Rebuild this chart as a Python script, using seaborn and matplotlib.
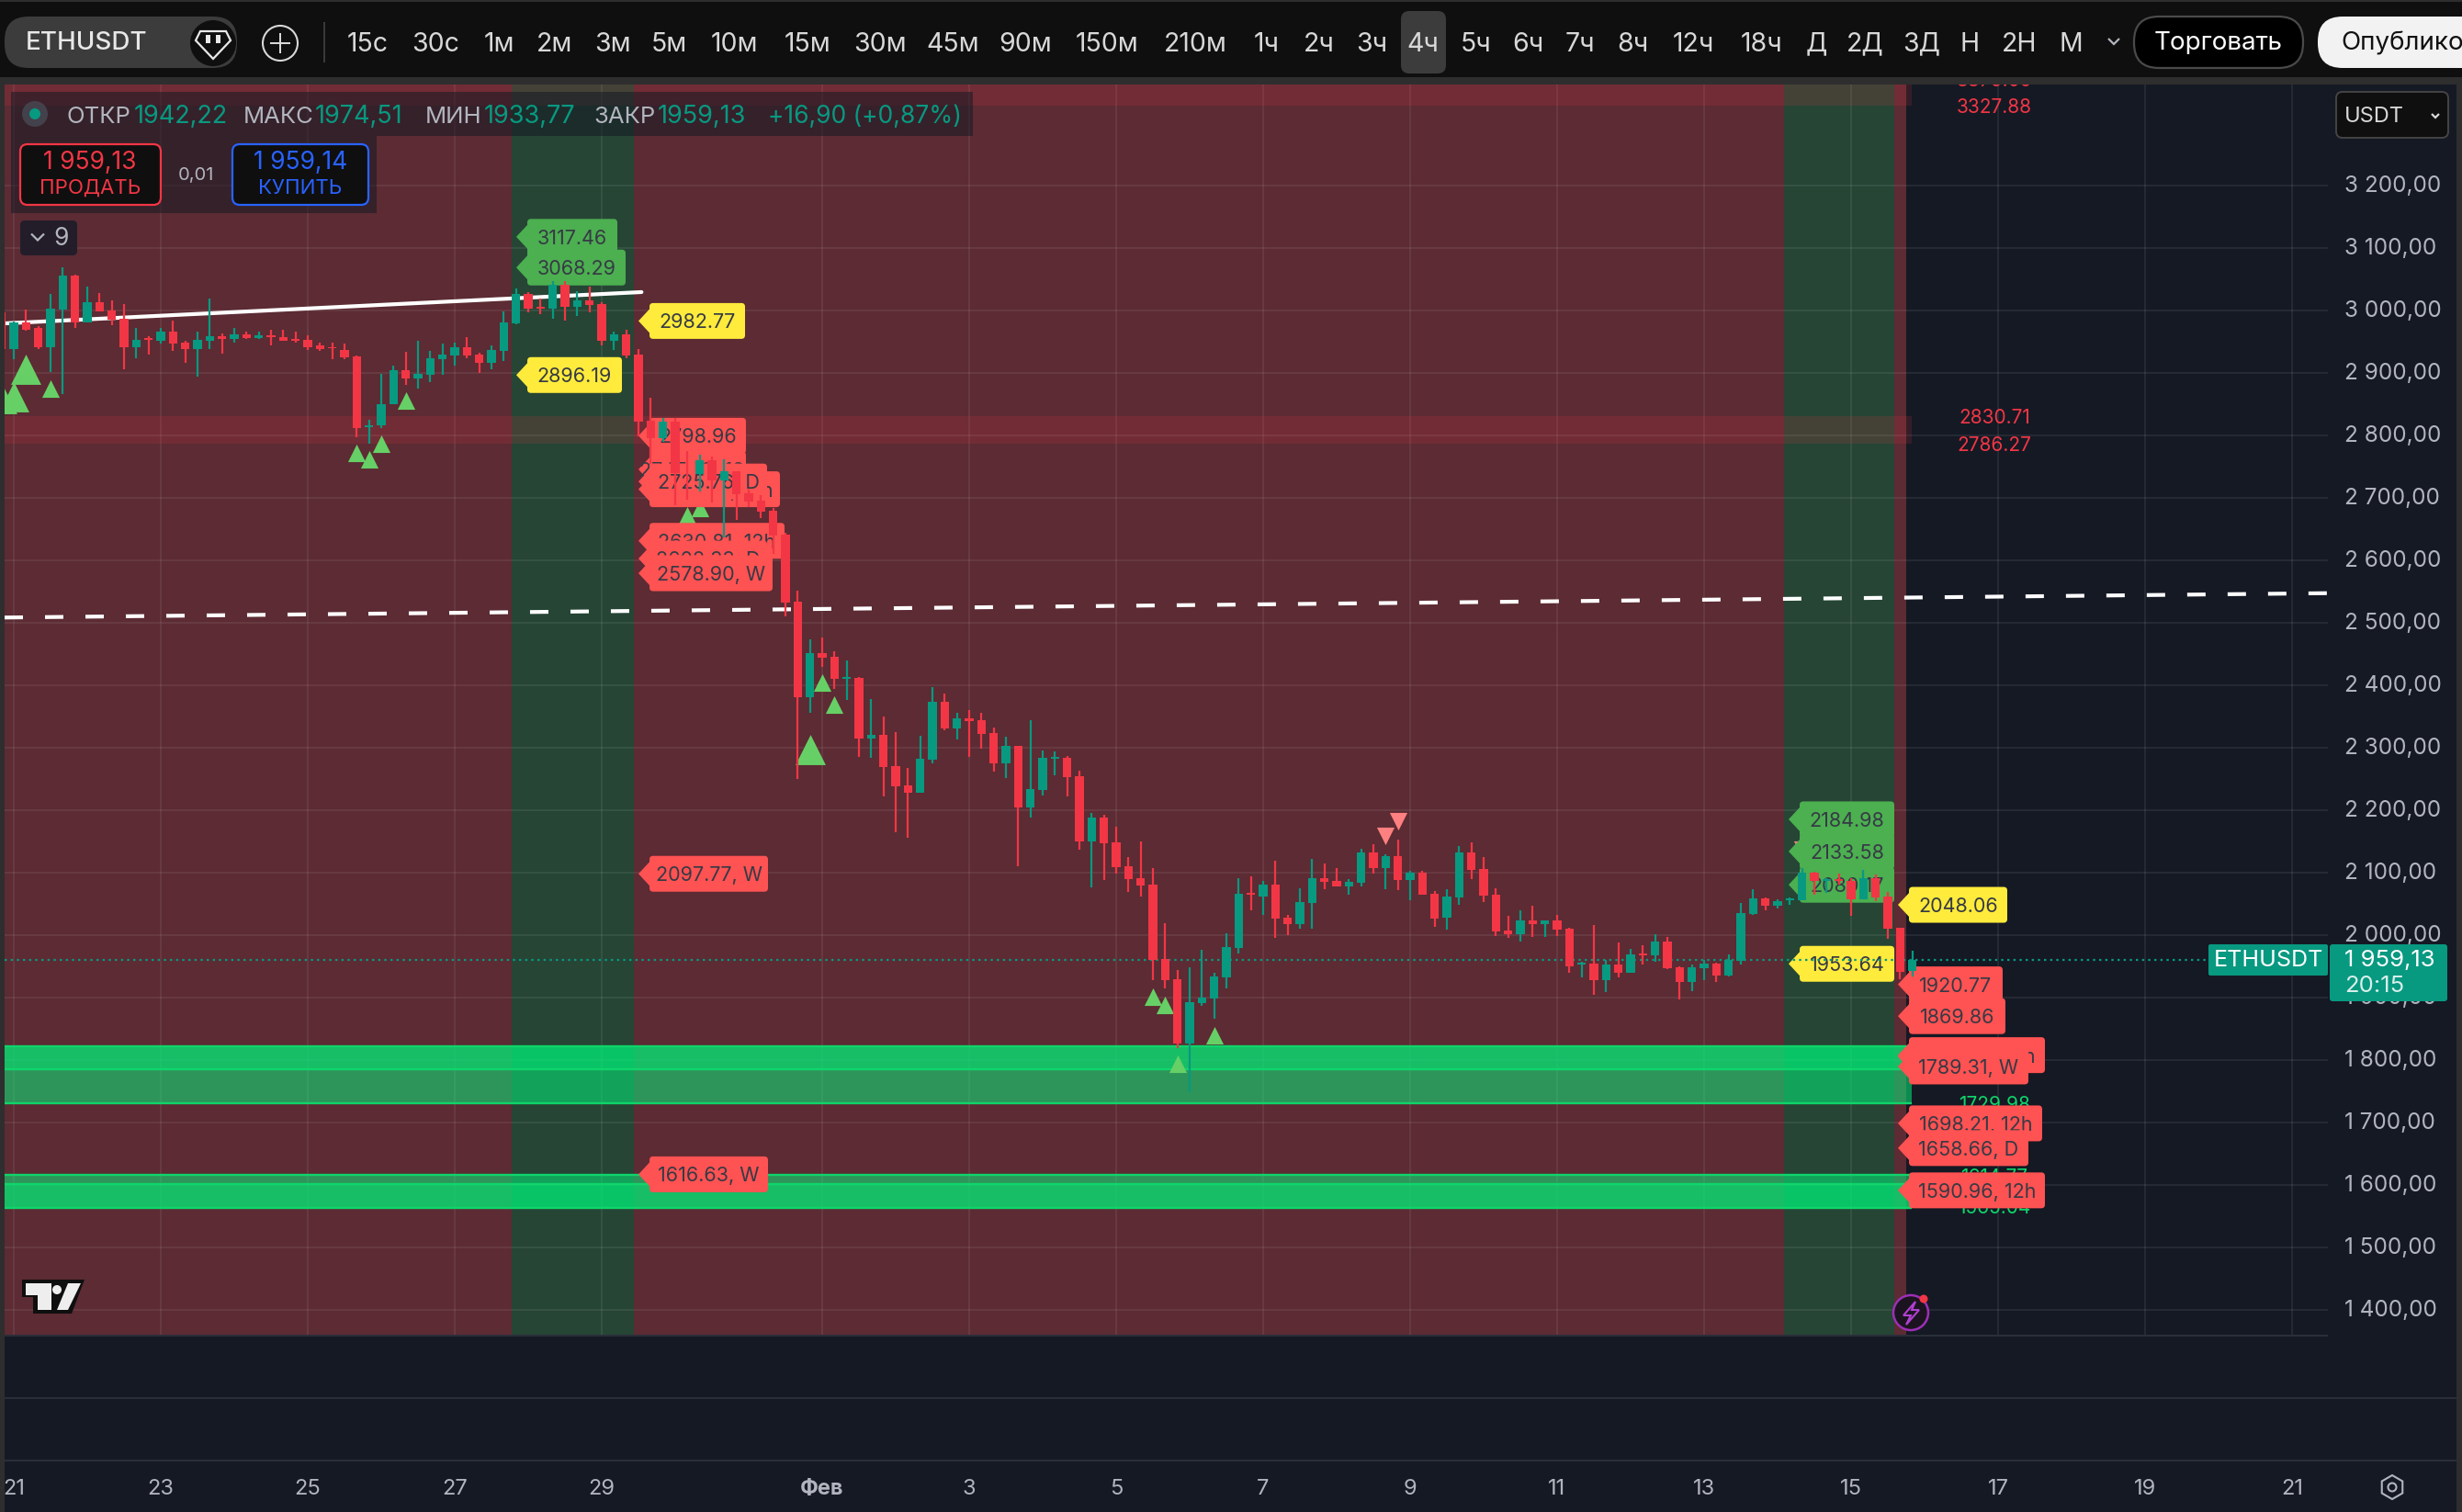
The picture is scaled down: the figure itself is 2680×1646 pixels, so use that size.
import matplotlib
matplotlib.use("Agg")
import matplotlib.dates as mdates
import matplotlib.pyplot as plt
import numpy as np
import pandas as pd
import seaborn as sns
from matplotlib.patches import Circle, FancyBboxPatch, Polygon, Rectangle, RegularPolygon
from matplotlib.transforms import Affine2D, ScaledTranslation

W, H = 2680, 1646

# 4h candles, first one is Jan 20 20:00
opens = [2996, 2938, 2981, 2971, 2941, 3001, 3056, 2981, 3013, 3000, 2987, 2940, 2955, 2951, 2965, 2948,
         2938, 2951, 2959, 2954, 2962, 2956, 2960, 2957, 2954, 2953, 2943, 2941, 2937, 2926, 2813, 2815,
         2849, 2904, 2891, 2897, 2922, 2928, 2941, 2929, 2915, 2935, 2979, 3026, 3005, 3003, 3040, 3006,
         3016, 3010, 2951, 2962, 2929, 2823, 2795, 2822, 2741, 2738, 2760, 2727, 2742, 2707, 2695, 2679,
         2641, 2533, 2381, 2451, 2445, 2410, 2411, 2314, 2320, 2270, 2239, 2228, 2281, 2373, 2331, 2347,
         2344, 2323, 2275, 2302, 2204, 2232, 2282, 2283, 2254, 2149, 2188, 2148, 2110, 2091, 2080, 1961,
         1929, 1826, 1891, 1898, 1932, 1979, 2067, 2061, 2080, 2027, 2017, 2051, 2091, 2086, 2077, 2083,
         2132, 2107, 2126, 2088, 2099, 2066, 2027, 2060, 2132, 2105, 2064, 2007, 2001, 2023, 2017, 2023,
         2010, 1952, 1954, 1927, 1952, 1939, 1970, 1967, 1989, 1948, 1925, 1947, 1954, 1935, 1958, 2033,
         2058, 2047, 2056, 2055, 2099, 2087, 2089, 2086, 2057, 2091, 2061, 2011, 1942.22]
closes = [2938, 2981, 2969, 2940, 3003, 3056, 2981, 3013, 2998, 2985, 2940, 2953, 2952, 2965, 2947, 2938,
          2953, 2959, 2954, 2962, 2956, 2960, 2957, 2951, 2951, 2941, 2938, 2939, 2925, 2812, 2816, 2850,
          2904, 2891, 2898, 2923, 2929, 2941, 2928, 2915, 2937, 2981, 3026, 3003, 3003, 3040, 3006, 3016,
          3009, 2951, 2962, 2928, 2822, 2795, 2822, 2739, 2740, 2760, 2727, 2742, 2705, 2694, 2678, 2639,
          2532, 2381, 2451, 2444, 2410, 2413, 2314, 2320, 2269, 2238, 2228, 2282, 2373, 2331, 2347, 2342,
          2322, 2275, 2303, 2204, 2233, 2283, 2285, 2252, 2149, 2188, 2147, 2108, 2089, 2079, 1960, 1927,
          1826, 1892, 1900, 1933, 1980, 2066, 2064, 2080, 2026, 2017, 2052, 2091, 2085, 2077, 2085, 2132,
          2107, 2126, 2088, 2099, 2064, 2026, 2061, 2132, 2104, 2063, 2005, 2001, 2023, 2017, 2023, 2008,
          1950, 1955, 1927, 1952, 1939, 1969, 1967, 1989, 1947, 1925, 1948, 1954, 1935, 1960, 2035, 2058,
          2047, 2054, 2058, 2099, 2086, 2089, 2086, 2057, 2091, 2060, 2010, 1941, 1959.13]
highs = [3000, 2982, 3001, 2974, 3026, 3069, 3057, 3038, 3028, 3016, 3010, 2972, 2959, 2972, 2984, 2951,
         2965, 3019, 2963, 2971, 2966, 2965, 2968, 2968, 2965, 2960, 2948, 2948, 2946, 2928, 2825, 2898,
         2912, 2934, 2951, 2935, 2946, 2948, 2957, 2932, 2943, 2998, 3035, 3029, 3018, 3046, 3046, 3031,
         3038, 3013, 2965, 2969, 2938, 2860, 2827, 2827, 2775, 2769, 2766, 2761, 2742, 2713, 2704, 2683,
         2644, 2551, 2473, 2476, 2454, 2439, 2413, 2378, 2350, 2325, 2267, 2319, 2397, 2386, 2356, 2360,
         2356, 2332, 2317, 2303, 2344, 2295, 2294, 2286, 2263, 2195, 2192, 2173, 2124, 2149, 2107, 2019,
         1944, 1948, 1976, 1939, 2002, 2091, 2094, 2086, 2119, 2032, 2075, 2122, 2114, 2107, 2089, 2138,
         2145, 2129, 2152, 2102, 2102, 2070, 2073, 2142, 2148, 2124, 2075, 2030, 2039, 2047, 2023, 2032,
         2011, 1957, 2016, 1960, 1988, 1977, 1983, 2001, 1997, 1950, 1952, 1960, 1955, 1969, 2051, 2073,
         2060, 2057, 2060, 2107, 2101, 2091, 2098, 2091, 2104, 2097, 2069, 2011, 1974.51]
lows = [2935, 2922, 2967, 2938, 2901, 2866, 2972, 2981, 2998, 2976, 2906, 2923, 2929, 2946, 2935, 2915,
        2893, 2938, 2931, 2948, 2954, 2954, 2944, 2951, 2948, 2937, 2935, 2921, 2922, 2797, 2787, 2812,
        2849, 2881, 2875, 2885, 2896, 2912, 2923, 2900, 2906, 2918, 2978, 2996, 2993, 2987, 2984, 2990,
        2997, 2944, 2937, 2923, 2798, 2754, 2789, 2688, 2697, 2710, 2692, 2636, 2664, 2685, 2667, 2610,
        2510, 2250, 2356, 2429, 2394, 2376, 2285, 2284, 2222, 2165, 2155, 2228, 2275, 2328, 2313, 2285,
        2298, 2261, 2251, 2110, 2188, 2223, 2255, 2221, 2136, 2076, 2088, 2098, 2069, 2061, 1927, 1914,
        1819, 1748, 1886, 1866, 1914, 1970, 2039, 2032, 1995, 1999, 2010, 2010, 2073, 2077, 2064, 2077,
        2098, 2073, 2072, 2055, 2064, 2013, 2008, 2048, 2089, 2052, 1998, 1995, 1989, 1997, 1997, 1998,
        1939, 1932, 1904, 1908, 1932, 1939, 1952, 1957, 1945, 1897, 1910, 1927, 1925, 1933, 1952, 2032,
        2039, 2042, 2048, 2055, 2064, 2067, 2080, 2030, 2057, 2054, 1994, 1929, 1933.77]

# signal triangles: index into the candle lists, price
big_up_idx = [0, 1, 2, 66]
big_up_price = [2858, 2861, 2905, 2296]
up_idx = [4, 29, 30, 31, 33, 56, 57, 67, 68, 94, 95, 96, 99]
up_price = [2875, 2771, 2761, 2786, 2855, 2672, 2683, 2404, 2368, 1901, 1888, 1793, 1840]
down_idx = [113, 114, 147]
down_price = [2158, 2182, 2136]

# horizontal zones (low, high)
red_zones = [(3327.88, 3400), (2786.27, 2830.71)]
bright_zones = [(1785, 1822), (1563, 1601)]
soft_zones = [(1730, 1785), (1601, 1616)]
zone_edges = [1822, 1785, 1730, 1616, 1601, 1563]

trend_dates = ["2026-01-20 21:30", "2026-01-29 13:00"]
trend_prices = [2979, 3029]
dash_dates = ["2026-01-20 21:00", "2026-02-21 11:45"]
dash_prices = [2508, 2547]

price_ticks = list(range(1400, 3300, 100))
time_ticks = ["2026-01-21", "2026-01-23", "2026-01-25", "2026-01-27", "2026-01-29", "2026-02-01", "2026-02-03",
              "2026-02-05", "2026-02-07", "2026-02-09", "2026-02-11", "2026-02-13", "2026-02-15", "2026-02-17",
              "2026-02-19", "2026-02-21"]
time_labels = ["21", "23", "25", "27", "29", "Фев", "3", "5", "7", "9", "11", "13", "15", "17", "19", "21"]

# price tags in drawing order: text, price, colour, tip x, right x
tag_labels = ["3117.46", "3068.29", "2982.77", "2896.19", "2798.96", "2745.12, 12h", "2713.40, 12h", "2725.76, D",
              "2630.81, 12h", "2602.33, D", "2578.90, W", "2097.77, W", "1616.63, W",
              "2184.98", "2133.58", "2080.17", "1953.64", "2048.06", "1920.77", "1869.86",
              "1807.45, 12h", "", "1789.31, W", "1698.21, 12h", "1658.66, D", "1590.96, 12h"]
tag_prices = [3117.46, 3068.29, 2982.77, 2896.19, 2798.96, 2745.12, 2713.4, 2725.76, 2630.81, 2602.33, 2578.9,
              2097.77, 1616.63, 2184.98, 2133.58, 2080.17, 1953.64, 2048.06, 1920.77, 1869.86, 1807.45, 1805,
              1789.31, 1698.21, 1658.66, 1590.96]
tag_kinds = ["g", "g", "y", "y", "r", "r", "r", "r", "r", "r", "r", "r", "r",
             "g", "g", "g", "y", "y", "r", "r", "r", "r", "r", "r", "r", "r"]
tag_tips = [562, 562, 695, 562, 695, 695, 695, 695, 695, 695, 695, 695, 695,
            1947, 1947, 1947, 1947, 2066, 2066, 2066, 2066, 2066, 2066, 2066, 2066, 2066]
tag_rights = [672, 681, 811, 677, 812, 812, 849, 835, 854, 835, 841, 836, 836,
              2062, 2062, 2062, 2062, 2185, 2180, 2183, 2226, 2208, 2208, 2223, 2208, 2226]
side_labels = ["3370.09", "3327.88", "2830.71", "2786.27", "1729.98", "1614.77", "1565.04"]
side_prices = [3370.09, 3327.88, 2830.71, 2786.27, 1729.98, 1614.77, 1565.04]
side_colors = ["#f23645"] * 4 + ["#0fd56a"] * 3

toolbar_items = ["15с", "30с", "1м", "2м", "3м", "5м", "10м", "15м", "30м", "45м", "90м", "150м", "210м",
                 "1ч", "2ч", "3ч", "4ч", "5ч", "6ч", "7ч", "8ч", "12ч", "18ч", "Д", "2Д", "3Д", "Н", "2Н", "М"]
toolbar_x = [400, 474, 543, 604, 667, 728, 799, 879, 958, 1037, 1116, 1205, 1301,
             1379, 1436, 1493, 1549, 1607, 1663, 1720, 1777, 1843, 1918, 1977, 2030, 2092, 2144, 2198, 2254]
ohlc_parts = ["ОТКР", "1942,22", "МАКС", "1974,51", "МИН", "1933,77", "ЗАКР", "1959,13", "+16,90 (+0,87%)"]
ohlc_x = [73, 146, 265, 343, 463, 527, 646, 716, 836]

NAVY = "#151924"
BAR = "#0f0f0f"
RED = "#f23645"
GREEN = "#089981"
TEXT = "#b2b5be"
TAG_COLORS = {"g": "#4caf50", "y": "#ffeb3b", "r": "#ff5252"}

sns.set_theme(style="dark", rc={"figure.facecolor": NAVY, "axes.facecolor": NAVY})
plt.rcParams["font.family"] = ["Inter", "DejaVu Sans"]

fig = plt.figure(figsize=(W / 100, H / 100), dpi=100)
ax = fig.add_axes([5 / W, (H - 1454) / H, 2529 / W, 1362 / H])
for spine in ax.spines.values():
    spine.set_visible(False)

# x axis in matplotlib day numbers, 80 px per day
times = pd.date_range("2026-01-20 20:00", periods=len(opens), freq="4h")
x = mdates.date2num(times)
day0 = mdates.date2num(pd.Timestamp("2026-01-21"))
ax.set_xlim(day0 - 10 / 80, day0 + 2519 / 80)
ax.set_ylim(1358.4, 3361.3)

# display pixels with the origin in the top left corner
px = Affine2D().scale(1, -1).translate(0, H)


def price_y(price):
    return H - ax.transData.transform((day0, price))[1]


def box(x0, y0, x1, y1, color, z, radius=0, edge="none", lw=0, alpha=None):
    if radius:
        p = FancyBboxPatch((x0, y0), x1 - x0, y1 - y0, boxstyle=f"round,pad=0,rounding_size={radius}",
                           facecolor=color, edgecolor=edge, linewidth=lw, transform=px, zorder=z,
                           clip_on=False, alpha=alpha)
    else:
        p = Rectangle((x0, y0), x1 - x0, y1 - y0, facecolor=color, edgecolor=edge, linewidth=lw, transform=px,
                      zorder=z, clip_on=False, alpha=alpha)
    ax.add_patch(p)


def label(x0, y0, s, color=TEXT, size=20, ha="center", z=12, weight="normal", clip=False):
    return ax.text(x0, y0 + 2, s, color=color, fontsize=size, ha=ha, va="center", transform=px, zorder=z,
                   fontweight=weight, clip_on=clip)


def chevron(x0, y0, size, color=TEXT, z=12):
    ax.add_patch(Polygon([(x0 - size, y0 - size * 0.5), (x0, y0 + size * 0.5), (x0 + size, y0 - size * 0.5)],
                         closed=False, fill=False, edgecolor=color, linewidth=1.6, transform=px, zorder=z,
                         clip_on=False))


# background zones
red_end = day0 + (2075 - 15) / 80
ax.axvspan(day0 - 1, red_end, color="#5c2b33", lw=0, zorder=0.2)
ax.axvspan(day0 + (557 - 15) / 80, day0 + (690 - 15) / 80, color="#264535", lw=0, zorder=0.3)
ax.axvspan(day0 + (1942 - 15) / 80, day0 + (2062 - 15) / 80, color="#264535", lw=0, zorder=0.3)
zone_end = (day0 + (2081 - 15) / 80 - ax.get_xlim()[0]) / (ax.get_xlim()[1] - ax.get_xlim()[0])

for low, high in red_zones:
    ax.axhspan(low, high, xmax=zone_end, color=RED, alpha=0.15, lw=0, zorder=1)
for low, high in bright_zones:
    ax.axhspan(low, high, xmax=zone_end, color="#00f078", alpha=0.75, lw=0, zorder=1)
for low, high in soft_zones:
    ax.axhspan(low, high, xmax=zone_end, color="#00ff7f", alpha=0.5, lw=0, zorder=1)
ax.hlines(zone_edges, ax.get_xlim()[0], day0 + (2081 - 15) / 80, color="#0fd56a", lw=1.7, zorder=1.1)

# grid
ax.set_axisbelow(True)
ax.grid(True, color="white", alpha=0.07, lw=1.5)
ax.set_yticks(price_ticks)
ax.set_yticklabels([f"{p // 1000} {p % 1000:03d},00" for p in price_ticks], color=TEXT, fontsize=17.5)
ax.yaxis.tick_right()
ax.tick_params(axis="y", length=0, pad=13)
up_shift = ScaledTranslation(0, 2 / 100, fig.dpi_scale_trans)
for tick_label in ax.get_yticklabels():
    tick_label.set_transform(tick_label.get_transform() + up_shift)
ax.set_xticks(mdates.date2num(pd.to_datetime(time_ticks)))
ax.set_xticklabels(time_labels, color=TEXT, fontsize=17)
ax.tick_params(axis="x", length=0, pad=112.5)
ax.get_xticklabels()[5].set_fontweight("bold")

# trend lines
sns.lineplot(x=mdates.date2num(pd.to_datetime(trend_dates)), y=trend_prices, color="white", linewidth=3.0,
             estimator=None, legend=False, ax=ax, zorder=2, solid_capstyle="round")
sns.lineplot(x=mdates.date2num(pd.to_datetime(dash_dates)), y=dash_prices, color="white", linewidth=3.0,
             linestyle=(0, (4.8, 5.76)), estimator=None, legend=False, ax=ax, zorder=2)

# signal triangles
sns.scatterplot(x=x[big_up_idx], y=big_up_price, marker="^", s=560, color="#66d066", linewidth=0, legend=False,
                ax=ax, zorder=2.5)
sns.scatterplot(x=x[up_idx], y=up_price, marker="^", s=190, color="#66d066", linewidth=0, legend=False,
                ax=ax, zorder=2.5)
sns.scatterplot(x=x[down_idx], y=down_price, marker="v", s=190, color="#ff8080", linewidth=0, legend=False,
                ax=ax, zorder=2.5)
ax.set(xlabel="", ylabel="")

# side labels right of the zones
for s, p, c in zip(side_labels, side_prices, side_colors):
    label(2171, price_y(p), s, color=c, size=15, z=2.6, clip=True)

# price tags
for i, (s, p, kind, tip, right) in enumerate(zip(tag_labels, tag_prices, tag_kinds, tag_tips, tag_rights)):
    z = 3 + i * 0.01
    yc = price_y(p)
    left = tip + 12
    box(left, yc - 19.5, right, yc + 19.5, TAG_COLORS[kind], z, radius=4)
    ax.add_patch(Polygon([(left + 1, yc - 14), (tip, yc), (left + 1, yc + 14)], facecolor=TAG_COLORS[kind],
                         edgecolor="none", transform=px, zorder=z, clip_on=False))
    if s:
        label((left + right) / 2, yc, s, color="#363a45", size=15.5, z=z + 0.001)

# last price line goes under the candles but over the tags
ax.hlines(closes[-1], ax.get_xlim()[0], day0 + (2404 - 15) / 80, color=GREEN, lw=1.6,
          linestyle=(0, (1.1, 1.9)), zorder=3.5)

# candles
is_up = np.array(closes) >= np.array(opens)
wick_colors = [GREEN if u else RED for u in is_up]
ax.vlines(x, lows, highs, color=wick_colors, lw=1.6, zorder=4)
ax.bar(x, np.abs(np.array(closes) - np.array(opens)), bottom=np.minimum(opens, closes), width=0.72 / 6,
       color=wick_colors, linewidth=0, zorder=4.1)

# logo and corner icons on the chart
ax.add_patch(Polygon([(24, 1393), (92, 1393), (78, 1430), (36, 1430), (36, 1412), (24, 1412)], facecolor=BAR,
                     edgecolor="none", transform=px, zorder=5, clip_on=False))
for pts in [[(28, 1397), (56, 1397), (56, 1426), (41, 1426), (41, 1410), (28, 1410)],
            [(74, 1397), (88, 1397), (74, 1426), (62, 1426)]]:
    ax.add_patch(Polygon(pts, facecolor="#eeeeee", edgecolor="none", transform=px, zorder=5.1, clip_on=False))
ax.add_patch(Circle((62, 1404), 5, facecolor="#eeeeee", edgecolor="none", transform=px, zorder=5.1, clip_on=False))
ax.add_patch(Circle((2080, 1429), 19, facecolor="#1b1420", edgecolor="#9c2fb5", linewidth=1.8, transform=px,
                    zorder=5, clip_on=False))
ax.add_patch(Polygon([(2085, 1417), (2072, 1432), (2080, 1432), (2075, 1442), (2089, 1426), (2081, 1426)],
                     fill=False, edgecolor="#b040d0", linewidth=1.5, transform=px, zorder=5.1, clip_on=False))
ax.add_patch(Circle((2094, 1414), 4.5, facecolor="#f23645", edgecolor="none", transform=px, zorder=5.2,
                    clip_on=False))

# legend panels
box(12, 100, 1059, 148, NAVY, 6, alpha=0.55)
box(12, 148, 410, 232, NAVY, 6, alpha=0.55)
for s, xp in zip(ohlc_parts, ohlc_x):
    is_value = s[0] == "1"
    size = 19.5 if is_value else 19 if s[0] == "+" else 18.5
    label(xp, 125, s, color=GREEN if s[0] in "+1" else TEXT, size=size, ha="left", z=7)
ax.add_patch(Circle((38, 124), 14, facecolor="#4a4f5a", edgecolor="none", transform=px, zorder=7, clip_on=False,
                    alpha=0.7))
ax.add_patch(Circle((38, 124), 6, facecolor=GREEN, edgecolor="none", transform=px, zorder=7.1, clip_on=False))
box(22, 157, 175, 223, BAR, 7, radius=8, edge=RED, lw=1.6)
box(253, 157, 401, 223, BAR, 7, radius=8, edge="#2962ff", lw=1.6)
label(98, 175, "1 959,13", color=RED, size=19, z=8)
label(98, 203, "ПРОДАТЬ", color=RED, size=16, z=8)
label(213, 189, "0,01", color=TEXT, size=14.5, z=8)
label(327, 175, "1 959,14", color="#2962ff", size=19, z=8)
label(327, 203, "КУПИТЬ", color="#2962ff", size=16, z=8)
box(22, 240, 84, 278, "#231d2a", 7, radius=5)
chevron(41, 258, 7)
label(67, 258, "9", color=TEXT, size=19, z=8)

# toolbar and page chrome
box(0, 0, W, 92, "#2e2e2e", 10)
box(0, 2, W, 84, BAR, 10.1)
box(0, 84, 5, H, "#2e2e2e", 10)
box(2674, 84, W, H, "#2e2e2e", 10)
for yl in (1454, 1522, 1590):
    box(5, yl - 1, 2534 if yl == 1454 else 2674, yl + 1, "#2a2e39", 9)
box(5, 18, 258, 74, "#3c3c3c", 11, radius=26)
ax.add_patch(Circle((232, 47), 25, facecolor=BAR, edgecolor="none", transform=px, zorder=11.1, clip_on=False))
ax.add_patch(Polygon([(218, 34), (246, 34), (251, 44), (232, 64), (213, 44)], fill=False, edgecolor="#e8e8e8",
                     linewidth=1.6, transform=px, zorder=11.2, clip_on=False))
box(224, 38, 229, 47, "#e8e8e8", 11.3)
box(235, 38, 240, 47, "#e8e8e8", 11.3)
label(28, 45, "ETHUSDT", color="#e8e8e8", size=20, ha="left", weight="medium")
ax.add_patch(Circle((305, 47), 19, fill=False, edgecolor="#d8d8d8", linewidth=1.5, transform=px, zorder=11,
                    clip_on=False))
box(294, 46, 316, 48, "#d8d8d8", 11)
box(304, 36, 306, 58, "#d8d8d8", 11)
box(352, 24, 354, 68, "#3a3a3a", 11)
box(1525, 12, 1574, 80, "#3c3c3c", 11, radius=9)
for s, xp in zip(toolbar_items, toolbar_x):
    label(xp, 46, s, color="#d8d8d8", size=20.5)
chevron(2301, 45, 6)
box(2323, 18, 2507, 74, "#000000", 11, radius=27, edge="#4a4a4a", lw=1.6)
label(2415, 45, "Торговать", color="white", size=20)
box(2523, 18, 2800, 74, "#f2f2f2", 11, radius=27)
label(2548, 45, "Опубликовать", color="#111111", size=20, ha="left")

box(2543, 100, 2665, 150, BAR, 8, radius=7, edge="#444444", lw=1.4)
label(2552, 125, "USDT", color="#d8d8d8", size=17, ha="left", z=9)
chevron(2651, 126, 4, color="#d8d8d8", z=9)

# last price tags on the axis
box(2404, 1028, 2534, 1062, GREEN, 8, radius=2)
label(2469, 1044, "ETHUSDT", color="white", size=18, z=9)
box(2536, 1028, 2664, 1090, GREEN, 8, radius=3)
label(2552, 1044, "1 959,13", color="white", size=18.5, ha="left", z=9)
label(2552, 1071, "20:15", color="#d8efea", size=18.5, ha="left", z=9)

# settings icon in the time scale
ax.add_patch(RegularPolygon((2604, 1619), 6, radius=13, fill=False, edgecolor=TEXT, linewidth=1.5, transform=px,
                            zorder=9, clip_on=False))
ax.add_patch(Circle((2604, 1619), 4.5, fill=False, edgecolor=TEXT, linewidth=1.5, transform=px, zorder=9,
                    clip_on=False))

fig.savefig("out.png", dpi=100, facecolor=NAVY)
